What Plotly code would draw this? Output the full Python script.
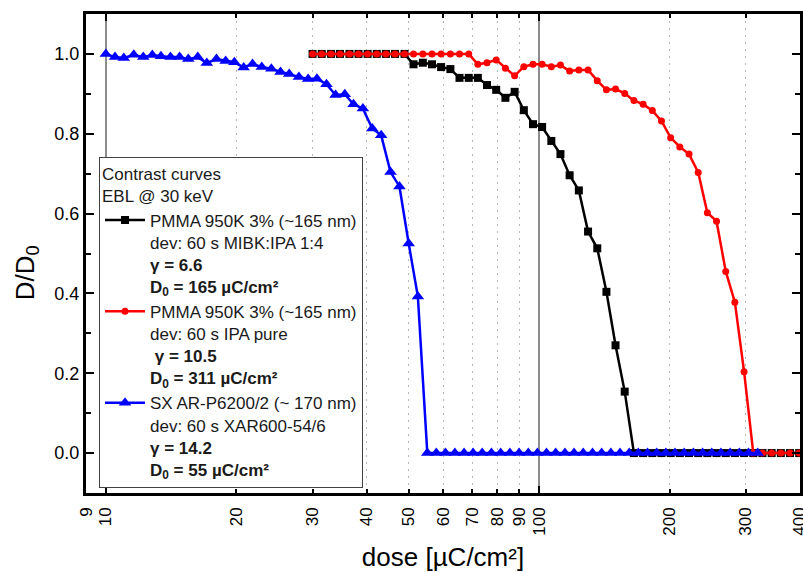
import plotly.graph_objects as go

# dose steps (uC/cm2)
dose_pmma = [30.0, 31.5, 33.1, 34.7, 36.5, 38.3, 40.2, 42.2, 44.3, 46.5,
             48.9, 51.3, 53.9, 56.6, 59.4, 62.4, 65.5, 68.8, 72.2, 75.8,
             79.6, 83.6, 87.8, 92.2, 96.8, 101.6, 106.7, 112.0, 117.6, 123.5,
             129.7, 136.2, 143.0, 150.1, 157.6, 165.5, 173.8, 182.5, 191.6, 201.2,
             211.2, 221.8, 232.9, 244.5, 256.7, 269.6, 283.0, 297.2, 312.1, 327.7,
             344.1, 361.3, 379.3, 398.3]

# PMMA 950K, MIBK:IPA 1:4
d_mibk = [1.0, 1.0, 1.0, 1.0, 1.0, 1.0, 1.0, 1.0, 1.0, 1.0,
          1.0, 0.974, 0.978, 0.974, 0.967, 0.962, 0.940, 0.940, 0.940, 0.922,
          0.910, 0.890, 0.905, 0.859, 0.824, 0.817, 0.782, 0.749, 0.696, 0.658,
          0.555, 0.513, 0.404, 0.270, 0.154, 0.0, 0.0, 0.0, 0.0, 0.0,
          0.0, 0.0, 0.0, 0.0, 0.0, 0.0, 0.0, 0.0, 0.0, 0.0,
          0.0, 0.0, 0.0, 0.0]

# PMMA 950K, IPA pure
d_ipa = [1.0, 1.0, 1.0, 1.0, 1.0, 1.0, 1.0, 1.0, 1.0, 1.0,
         1.0, 1.0, 1.0, 1.0, 1.0, 1.0, 1.0, 1.0, 0.974, 0.978,
         0.985, 0.964, 0.945, 0.968, 0.974, 0.974, 0.968, 0.972, 0.957, 0.960,
         0.960, 0.933, 0.910, 0.912, 0.901, 0.883, 0.874, 0.858, 0.832, 0.790,
         0.767, 0.749, 0.703, 0.602, 0.581, 0.455, 0.378, 0.204, 0.0, 0.0,
         0.0, 0.0, 0.0, 0.0]

# SX AR-P6200/2
dose_sx = [10.0, 10.5, 11.0, 11.6, 12.2, 12.8, 13.4, 14.1, 14.8, 15.5,
           16.3, 17.1, 18.0, 18.9, 19.8, 20.8, 21.8, 22.9, 24.1, 25.3,
           26.5, 27.9, 29.3, 30.7, 32.3, 33.9, 35.6, 37.3, 39.2, 41.2,
           43.2, 45.4, 47.6, 50.0, 52.5, 55.2, 57.9, 60.8, 63.9, 67.1,
           70.4, 73.9, 77.6, 81.5, 85.6, 89.9, 94.4, 99.1, 104.0, 109.2,
           114.7, 120.4, 126.4, 132.8, 139.4, 146.4, 153.7, 161.4, 169.4, 177.9,
           186.8, 196.1, 205.9, 216.2, 227.0, 238.4, 250.3, 262.8, 276.0, 289.8,
           304.3, 319.5]
d_sx = [1.0, 0.992, 0.990, 0.998, 0.992, 0.997, 0.994, 0.992, 0.992, 0.987,
        0.992, 0.977, 0.987, 0.982, 0.979, 0.966, 0.975, 0.967, 0.963, 0.955,
        0.950, 0.942, 0.937, 0.938, 0.924, 0.897, 0.899, 0.874, 0.863, 0.813,
        0.796, 0.704, 0.668, 0.525, 0.392, 0.0, 0.0, 0.0, 0.0, 0.0,
        0.0, 0.0, 0.0, 0.0, 0.0, 0.0, 0.0, 0.0, 0.0, 0.0,
        0.0, 0.0, 0.0, 0.0, 0.0, 0.0, 0.0, 0.0, 0.0, 0.0,
        0.0, 0.0, 0.0, 0.0, 0.0, 0.0, 0.0, 0.0, 0.0, 0.0,
        0.0, 0.0]

x_ticks = [9, 10, 20, 30, 40, 50, 60, 70, 80, 90, 100, 200, 300, 400]
x_minor = [20, 30, 40, 50, 60, 70, 80, 90, 200, 300]
y_ticks = [0.0, 0.2, 0.4, 0.6, 0.8, 1.0]

names = [
    'PMMA 950K 3% (~165 nm)<br>dev: 60 s MIBK:IPA 1:4<br><b>γ = 6.6</b><br><b>D<sub>0</sub> = 165 µC/cm²</b>',
    'PMMA 950K 3% (~165 nm)<br>dev: 60 s IPA pure<br><b> γ = 10.5</b><br><b>D<sub>0</sub> = 311 µC/cm²</b>',
    'SX AR-P6200/2 (~ 170 nm)<br>dev: 60 s XAR600-54/6<br><b>γ = 14.2</b><br><b>D<sub>0</sub> = 55 µC/cm²</b>',
]

FONT = 'Arial, Liberation Sans, sans-serif'
xrange = [0.9542, 2.6021]  # log10(9) .. log10(400)

fig = go.Figure()

fig.add_trace(go.Scatter(
    x=dose_pmma, y=d_mibk, mode='lines+markers', name=names[0],
    line=dict(color='#000000', width=2.5),
    marker=dict(symbol='square', size=8, color='#000000'),
))
fig.add_trace(go.Scatter(
    x=dose_pmma, y=d_ipa, mode='lines+markers', name=names[1],
    line=dict(color='#ff0000', width=2.5),
    marker=dict(symbol='circle', size=7, color='#ff0000'),
))
# blue on the overlay axis so it sits on top (and keeps x2 alive)
fig.add_trace(go.Scatter(
    x=dose_sx, y=d_sx, mode='lines+markers', name=names[2], xaxis='x2',
    line=dict(color='#0000ff', width=2.5),
    marker=dict(symbol='triangle-up', size=11, color='#0000ff'),
))

# y title as annotation: it sits a bit below the axis centre in the original
fig.add_annotation(
    text='D/D<sub>0</sub>', textangle=-90, showarrow=False,
    xref='paper', yref='paper', x=-0.084, y=0.459,
    xanchor='center', yanchor='middle',
    font=dict(family=FONT, size=26, color='#000000'),
)

fig.update_layout(
    width=803, height=572,
    margin=dict(l=86, r=3, t=14, b=79),
    paper_bgcolor='white', plot_bgcolor='white',
    font=dict(family=FONT, color='#000000'),
    showlegend=True,
    legend=dict(
        x=0.0182, y=0.701, xanchor='left', yanchor='top',
        bgcolor='white', bordercolor='#404040', borderwidth=1,
        font=dict(family=FONT, size=17, color='#1a1a1a'),
        title=dict(text='Contrast curves<br>EBL @ 30 keV',
                   font=dict(family=FONT, size=17, color='#1a1a1a')),
        valign='top', itemwidth=40, tracegroupgap=0,
    ),
    # major grid/ticks at decades, dotted minor grid
    xaxis=dict(
        type='log', range=xrange, automargin=False,
        tickvals=[10, 100], showticklabels=False,
        ticks='inside', ticklen=7, tickwidth=2, tickcolor='#000000',
        showgrid=True, gridcolor='#8c8c8c', gridwidth=2,
        minor=dict(tickvals=x_minor, ticks='inside', ticklen=4, tickwidth=1.5,
                   tickcolor='#000000', showgrid=True, gridcolor='#b8b8b8',
                   gridwidth=1, griddash='2px,5px'),
        showline=True, linewidth=3, linecolor='#000000', mirror='ticks',
        zeroline=False,
    ),
    # labels only
    xaxis2=dict(
        type='log', range=xrange, overlaying='x', side='bottom', anchor='y',
        automargin=False, ticklabeloverflow='allow',
        tickvals=x_ticks, ticktext=[str(v) for v in x_ticks],
        tickangle=-90, ticks='', showgrid=False, showline=False, zeroline=False,
        tickfont=dict(family=FONT, size=17), ticklabelstandoff=10,
        title=dict(text='dose [µC/cm²]', font=dict(family=FONT, size=26), standoff=15),
    ),
    yaxis=dict(
        range=[-0.1, 1.1], automargin=False,
        tickvals=y_ticks, ticktext=['%.1f' % v for v in y_ticks],
        ticks='inside', ticklen=8, tickwidth=2, tickcolor='#000000',
        minor=dict(tickvals=[0.1, 0.3, 0.5, 0.7, 0.9], ticks='inside', ticklen=5,
                   tickwidth=2, tickcolor='#000000', showgrid=False),
        showgrid=False, zeroline=False,
        showline=True, linewidth=3, linecolor='#000000', mirror='ticks',
        tickfont=dict(family=FONT, size=18), ticklabelstandoff=0,
    ),
)

# page has a default body margin; drop it so the figure sits at 0,0
fig.write_html('out.html', config={'displayModeBar': False},
               post_script="document.body.style.margin='0';")
